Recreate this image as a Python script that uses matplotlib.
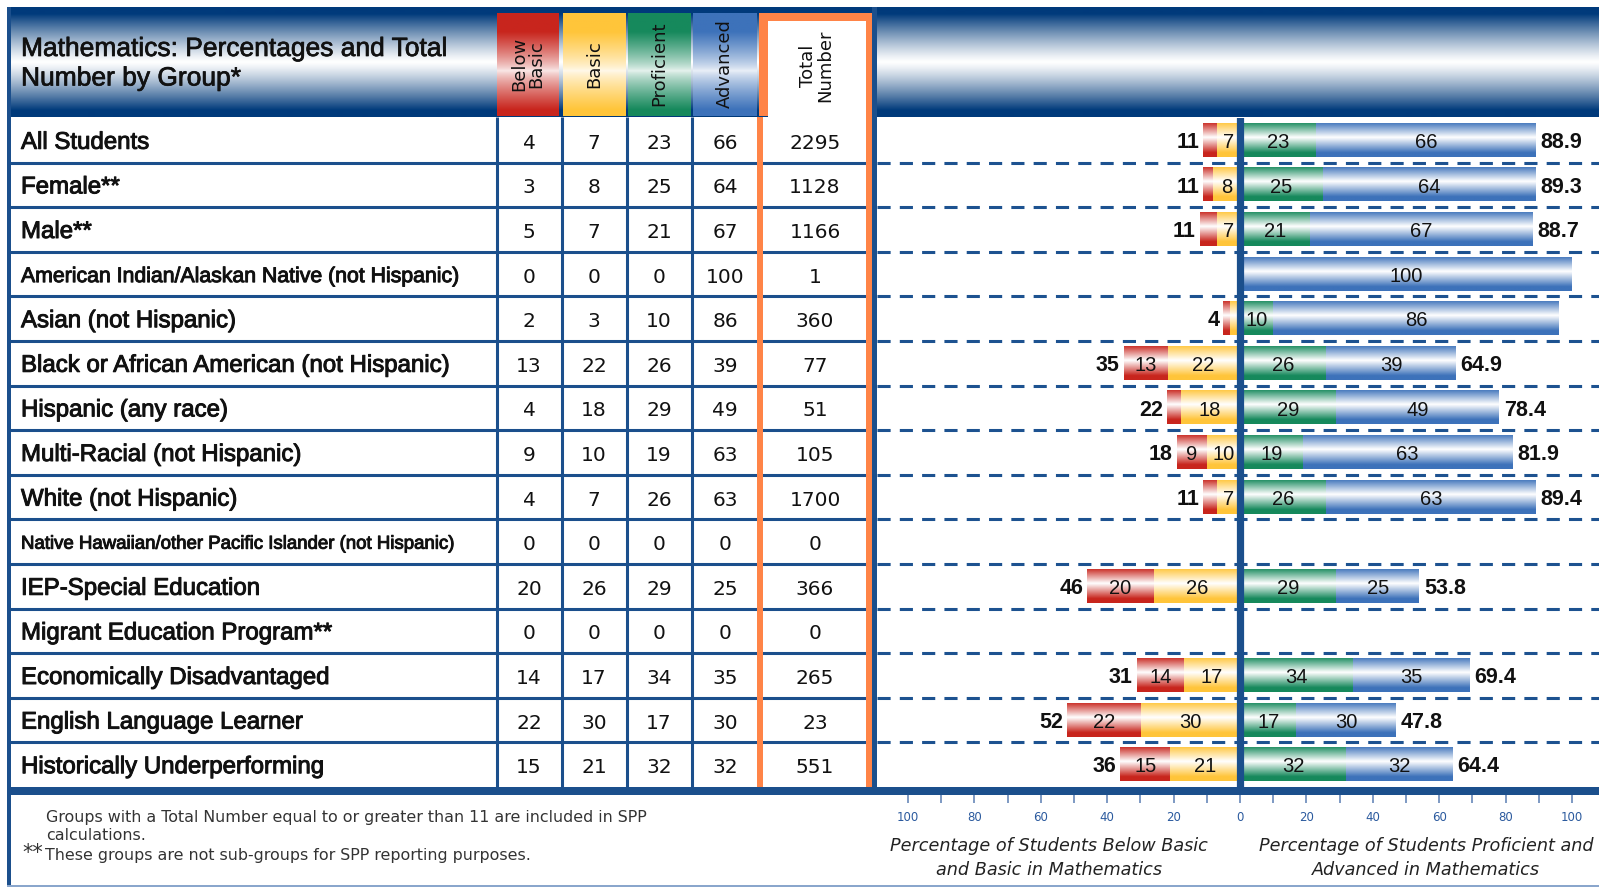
import matplotlib
matplotlib.use("Agg")
import matplotlib.pyplot as plt
import matplotlib.patheffects as pe
from matplotlib.colors import to_rgb
from matplotlib.patches import Rectangle
from matplotlib.ticker import FuncFormatter
import numpy as np

# Data
groups = [
    "All Students", "Female**", "Male**",
    "American Indian/Alaskan Native (not Hispanic)", "Asian (not Hispanic)",
    "Black or African American (not Hispanic)", "Hispanic (any race)",
    "Multi-Racial (not Hispanic)", "White (not Hispanic)",
    "Native Hawaiian/other Pacific Islander (not Hispanic)",
    "IEP-Special Education", "Migrant Education Program**",
    "Economically Disadvantaged", "English Language Learner",
    "Historically Underperforming",
]
below_basic = [4, 3, 5, 0, 2, 13, 4, 9, 4, 0, 20, 0, 14, 22, 15]
basic = [7, 8, 7, 0, 3, 22, 18, 10, 7, 0, 26, 0, 17, 30, 21]
proficient = [23, 25, 21, 0, 10, 26, 29, 19, 26, 0, 29, 0, 34, 17, 32]
advanced = [66, 64, 67, 100, 86, 39, 49, 63, 63, 0, 25, 0, 35, 30, 32]
total_number = [2295, 1128, 1166, 1, 360, 77, 51, 105, 1700, 0, 366, 0, 265, 23, 551]
low_totals = ["11", "11", "11", "", "4", "35", "22", "18", "11", "", "46", "", "31", "52", "36"]
high_totals = ["88.9", "89.3", "88.7", "", "", "64.9", "78.4", "81.9", "89.4", "", "53.8", "", "69.4", "47.8", "64.4"]
level_names = ["Below\nBasic", "Basic", "Proficient", "Advanced"]
tick_values = [-100, -80, -60, -40, -20, 0, 20, 40, 60, 80, 100]

# smaller fonts for the two long group names
label_size = {groups[3]: 15.3, groups[9]: 13.4}

# colours
navy = "#003a7b"
line_blue = "#1b4f8c"
orange = "#ff8447"
red = "#c8251d"
yellow = "#ffc53a"
green = "#16895c"
blue = "#3d72ba"

W, H = 1599, 888
fig = plt.figure(figsize=(W / 100, H / 100), dpi=100)

# pixel-space axes for the table and decorations
base = fig.add_axes([0, 0, 1, 1], zorder=2)
base.set_xlim(0, W)
base.set_ylim(H, 0)
base.axis("off")


def gradient(ax, x0, x1, y0, y1, color, mid=0.5, spread=0.45, power=1.0, floor=0.0, zorder=1):
    # vertical colour -> white -> colour fade
    t = np.linspace(0, 1, 200)
    w = np.clip(np.abs(t - mid) / spread, 0, 1) ** power
    w = floor + (1 - floor) * w
    c = np.array(to_rgb(color))
    img = (1 - w)[:, None] + w[:, None] * c
    ax.imshow(img[:, None, :], extent=(x0, x1, y1, y0), aspect="auto",
              interpolation="bilinear", zorder=zorder)


sans = ["Liberation Sans", "DejaVu Sans"]
stroke = [pe.withStroke(linewidth=0.7, foreground="#111")]

# header band
gradient(base, 8, W, 7, 117, navy, mid=0.5, spread=0.44, power=1.2)
base.text(21, 49, "Mathematics: Percentages and Total", fontsize=19, family=sans,
          va="center", color="#111", path_effects=[pe.withStroke(linewidth=0.5, foreground="#111")], zorder=5)
base.text(21, 78.5, "Number by Group*", fontsize=19, family=sans,
          va="center", color="#111", path_effects=[pe.withStroke(linewidth=0.5, foreground="#111")], zorder=5)

head_cells = [(497, 559, red), (563, 626, yellow), (628, 691, green), (693, 757, blue)]
for (x0, x1, c), name in zip(head_cells, level_names):
    gradient(base, x0, x1, 13, 116, c, mid=0.56, spread=0.38, power=0.8, floor=0.1, zorder=2)
    base.text((x0 + x1) / 2, 64, name, rotation=90, ha="center", va="center",
              multialignment="center", fontsize=13, linespacing=0.95, color="#111", zorder=5)

base.add_patch(Rectangle((759, 13), 116, 103, fc=orange, ec="none", zorder=2))
base.add_patch(Rectangle((768, 21), 98, 96, fc="white", ec="none", zorder=2))
base.text(817, 66, "Total\nNumber", rotation=90, ha="center", va="center",
          multialignment="center", fontsize=13, linespacing=0.95, color="#111", zorder=5)

# table grid
row_top, row_h = 118, 44.6
n = len(groups)
row_edges = [row_top + row_h * k for k in range(1, n)]
base.hlines(row_edges, 10, 872, color=line_blue, lw=2.2, zorder=3)
base.vlines([496.5, 561.5, 626.5, 691.5], 117, 787, color=line_blue, lw=2.2, zorder=3)
base.add_patch(Rectangle((757, 117), 6, 670, fc=orange, ec="none", zorder=4))
base.add_patch(Rectangle((866, 13), 6, 774, fc=orange, ec="none", zorder=4))
base.add_patch(Rectangle((872, 7), 5, 785, fc=line_blue, ec="none", zorder=4))
base.add_patch(Rectangle((7, 7), 4, 880, fc=line_blue, ec="none", zorder=4))
base.add_patch(Rectangle((7, 787), W - 7, 8, fc=line_blue, ec="none", zorder=4))
base.add_patch(Rectangle((7, 885), W - 7, 2, fc="#8aa6cc", ec="none", zorder=4))

col_centers = [529, 594, 659, 725, 815]
for i, g in enumerate(groups):
    yc = row_top + row_h * (i + 0.5)
    base.text(21, yc + 2.5, g, fontsize=label_size.get(g, 17.3), va="center",
              family=sans, color="#111", path_effects=stroke, zorder=5)
    vals = [below_basic[i], basic[i], proficient[i], advanced[i], total_number[i]]
    for xc, v in zip(col_centers, vals):
        base.text(xc, yc + 3, str(v), fontsize=14.5, ha="center", va="center",
                  color="#111", zorder=5)

# footer notes
foot = dict(fontsize=11.4, color="#333", va="center", zorder=5)
base.text(46, 817, "Groups with a Total Number equal to or greater than 11 are included in SPP", **foot)
base.text(46, 835, "calculations.", **foot)
base.text(22, 853, "**", fontsize=15, color="#333", va="center", zorder=5)
base.text(45, 855, "These groups are not sub-groups for SPP reporting purposes.", **foot)

cap = dict(fontsize=12.7, style="italic", color="#222", ha="center", va="center", zorder=5)
base.text(1049, 846, "Percentage of Students Below Basic", **cap)
base.text(1049, 870, "and Basic in Mathematics", **cap)
base.text(1426, 846, "Percentage of Students Proficient and", **cap)
base.text(1426, 870, "Advanced in Mathematics", **cap)

# bar chart axes
ax = fig.add_axes([877 / W, 1 - 787 / H, (W - 877) / W, (787 - 118) / H], zorder=1)
ax.patch.set_visible(False)
for s in ax.spines.values():
    s.set_visible(False)

y = np.arange(n)
bb = np.array(below_basic)
ba = np.array(basic)
pr = np.array(proficient)
ad = np.array(advanced)

bar_h = 0.74
sets = [
    (ax.barh(y, -ba, height=bar_h, color=yellow, zorder=2), ba, yellow),
    (ax.barh(y, -bb, left=-ba, height=bar_h, color=red, zorder=2), bb, red),
    (ax.barh(y, pr, height=bar_h, color=green, zorder=2), pr, green),
    (ax.barh(y, ad, left=pr, height=bar_h, color=blue, zorder=2), ad, blue),
]
for container, vals, c in sets:
    for i, (patch, v) in enumerate(zip(container, vals)):
        if v == 0:
            continue
        bx = patch.get_bbox()
        x0, x1 = sorted([bx.x0, bx.x1])
        y0, y1 = sorted([bx.y0, bx.y1])
        gradient(ax, x0, x1, y0, y1, c, mid=0.42, spread=0.45, power=1.0, zorder=3)
        if v >= 6:
            ax.text((x0 + x1) / 2, i + 0.05, str(v), ha="center", va="center",
                    fontsize=14.5, family=sans, color="#111", zorder=5)

tot_style = dict(textcoords="offset points", va="center", fontsize=15.5,
                 fontweight="bold", family=sans, color="#111", zorder=5)
for i, txt in enumerate(low_totals):
    if txt:
        ax.annotate(txt, xy=(-(bb[i] + ba[i]), i + 0.05), xytext=(-3, 0), ha="right", **tot_style)
for i, txt in enumerate(high_totals):
    if txt:
        ax.annotate(txt, xy=(pr[i] + ad[i], i + 0.05), xytext=(3.5, 0), ha="left", **tot_style)

for k in range(n - 1):
    ax.axhline(k + 0.5, color="#1d5290", lw=2.2, dashes=(4.3, 3.0), zorder=1)
ax.axvline(0, color=line_blue, lw=5.2, zorder=4)

ax.set_xticks(tick_values)
ax.set_xticks([v + 10 for v in tick_values[:-1]], minor=True)
ax.xaxis.set_major_formatter(FuncFormatter(lambda v, p: f"{abs(v):.0f}"))
ax.tick_params(axis="x", which="both", length=11.5, width=1.1, color="#5a7db3",
               labelsize=8.5, labelcolor="#2b5a9e", pad=6)
ax.tick_params(axis="y", left=False, labelleft=False)
ax.set_xlim(-(1240 - 877) / 3.32, (W - 1240) / 3.32)
ax.set_ylim(n - 0.5, -0.5)

fig.savefig("out.png", dpi=100)
